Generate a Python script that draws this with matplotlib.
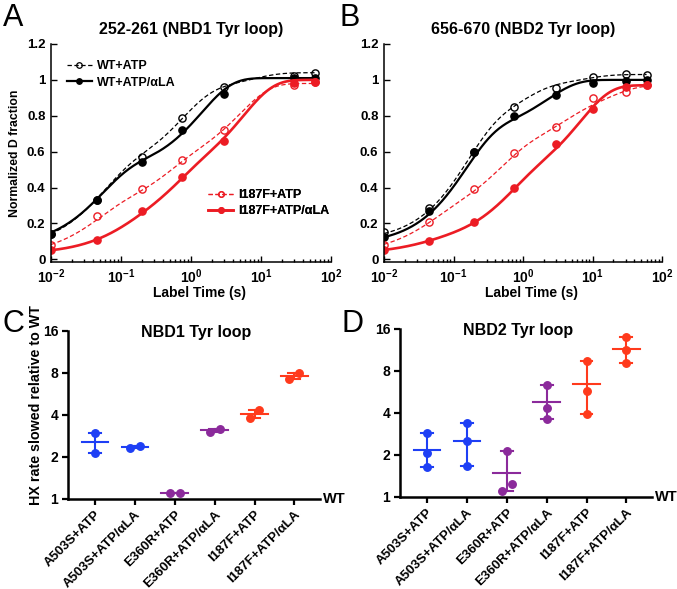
import numpy as np
import matplotlib
matplotlib.use("Agg")
import matplotlib.pyplot as plt
from matplotlib.lines import Line2D
from matplotlib.ticker import LogLocator, NullFormatter

plt.rcParams['font.family'] = ['Liberation Sans', 'DejaVu Sans']
plt.rcParams['font.weight'] = 'bold'
plt.rcParams['axes.labelweight'] = 'bold'
plt.rcParams['mathtext.fontset'] = 'custom'
plt.rcParams['mathtext.bf'] = 'Liberation Sans:bold'
plt.rcParams['mathtext.rm'] = 'Liberation Sans:bold'

# DATA: panels A/B (deuterium uptake)
############################################
time_a = [0.01, 0.045, 0.2, 0.75, 3, 30, 60]
time_b = [0.01, 0.045, 0.2, 0.75, 3, 10, 30, 60]

a_wt_atp = [0.14, 0.33, 0.57, 0.79, 0.96, 1.02, 1.04]
a_wt_atp_ala = [0.14, 0.33, 0.54, 0.72, 0.92, 1.01, 1.01]
a_i187f_atp = [0.08, 0.24, 0.39, 0.555, 0.72, 0.97, 0.99]
a_i187f_atp_ala = [0.05, 0.11, 0.27, 0.46, 0.66, 0.98, 0.99]

b_wt_atp = [0.15, 0.284, 0.60, 0.85, 0.953, 1.015, 1.035, 1.03]
b_wt_atp_ala = [0.127, 0.27, 0.60, 0.80, 0.916, 0.98, 0.995, 1.0]
b_i187f_atp = [0.08, 0.21, 0.39, 0.59, 0.74, 0.90, 0.93, 0.97]
b_i187f_atp_ala = [0.05, 0.10, 0.21, 0.40, 0.64, 0.84, 0.96, 0.97]

# multi-exponential fit parameters (offset, amplitudes, rates in 1/s)
fit_a_wt_atp = (0.06, [0.42, 0.45, 0.11], [20, 1.4, 0.15])
fit_a_wt_atp_ala = (0.07, [0.42, 0.52], [20, 0.7])
fit_a_i187f_atp = (0.02, [0.25, 0.25, 0.46], [25, 2.5, 0.2])
fit_a_i187f_atp_ala = (0.03, [0.12, 0.30, 0.55], [12, 2.0, 0.18])

fit_b_wt_atp = (0.10, [0.60, 0.25, 0.08], [7, 1.2, 0.15])
fit_b_wt_atp_ala = (0.08, [0.62, 0.30], [7, 0.45])
fit_b_i187f_atp = (0.03, [0.20, 0.35, 0.20, 0.19], [25, 2.5, 0.35, 0.06])
fit_b_i187f_atp_ala = (0.03, [0.06, 0.33, 0.55], [30, 1.8, 0.15])

series_names = ['WT+ATP', 'WT+ATP/αLA', 'I187F+ATP', 'I187F+ATP/αLA']

# DATA: panels C/D (HX rate slowed relative to WT)
############################################
categories = ['A503S+ATP', 'A503S+ATP/αLA', 'E360R+ATP',
              'E360R+ATP/αLA', 'I187F+ATP', 'I187F+ATP/αLA']
nbd1_rates = [[2.96, 2.15], [2.31, 2.40], [1.10, 1.11],
              [3.04, 3.16], [3.83, 4.34], [7.24, 7.96]]
nbd2_rates = [[2.86, 2.07, 1.64], [3.41, 2.52, 1.66], [2.14, 1.24, 1.10],
              [6.36, 4.37, 3.64], [9.51, 5.79, 3.95], [14.0, 11.23, 9.11]]

BLUE = '#1e3ff5'
PURPLE = '#8b2a9b'
ORANGE = '#ff3a1c'
cat_colors = [BLUE, BLUE, PURPLE, PURPLE, ORANGE, ORANGE]
RED = '#ec1c24'


def fit_curve(t, params):
    c0, amps, rates = params
    y = np.full_like(t, c0)
    for a, k in zip(amps, rates):
        y = y + a * (1 - np.exp(-k * t))
    return y


W, H = 677, 589
fig = plt.figure(figsize=(W / 100, H / 100), dpi=100)


def px_axes(x0, y_top, x1, y_bot):
    return fig.add_axes([x0 / W, 1 - y_bot / H, (x1 - x0) / W, (y_bot - y_top) / H])


def uptake_panel(ax, times, pts, fits, title, legends):
    styles = [('k', '--', 'none', 0.9), ('k', '-', 'k', 1.6),
              (RED, '--', 'none', 0.9), (RED, '-', RED, 1.9)]
    tt = np.logspace(-2, np.log10(max(times)), 300)
    handles = []
    for (c, ls, mfc, lw), y, f in zip(styles, pts, fits):
        dash = dict(dashes=(3.5, 2)) if ls == '--' else {}
        ax.plot(tt, fit_curve(tt, f), color=c, lw=lw, ls=ls, **dash)
        ax.plot(times, y, 'o', ms=5.2, mfc=mfc, mec=c, mew=1.0, ls='none')
        handles.append(Line2D([], [], color=c, lw=lw, ls=ls, marker='o', ms=4,
                              mfc=mfc, mec=c, mew=0.9, **dash))
    ax.set_xscale('log')
    ax.set_xlim(0.01, 100)
    ax.set_ylim(-0.015, 1.2)
    ax.set_xticks([0.01, 0.1, 1, 10, 100])
    ax.set_xticklabels([r'$\mathbf{10^{-2}}$', r'$\mathbf{10^{-1}}$', r'$\mathbf{10^{0}}$',
                        r'$\mathbf{10^{1}}$', r'$\mathbf{10^{2}}$'], fontsize=10)
    ax.xaxis.set_minor_locator(LogLocator(base=10, subs=np.arange(2, 10)))
    ax.xaxis.set_minor_formatter(NullFormatter())
    ax.set_yticks([0, 0.2, 0.4, 0.6, 0.8, 1.0, 1.2])
    ax.set_yticklabels(['0', '0.2', '0.4', '0.6', '0.8', '1', '1.2'], fontsize=9.5)
    ax.tick_params(which='both', direction='in', width=1.0, pad=4)
    ax.tick_params(which='major', length=4)
    ax.tick_params(which='minor', length=2.2)
    for s in ['top', 'right']:
        ax.spines[s].set_visible(False)
    for s in ['left', 'bottom']:
        ax.spines[s].set_linewidth(1.1)
    ax.set_title(title, fontsize=11.5, fontweight='bold', pad=7)
    ax.set_xlabel('Label Time (s)', fontsize=10, labelpad=3)
    ax.xaxis.set_label_coords(0.53, -0.11)
    for idx, anchor in legends:
        leg = ax.legend([handles[i] for i in idx], [series_names[i] for i in idx],
                        loc='upper left', bbox_to_anchor=anchor, frameon=False,
                        fontsize=9, handlelength=2.0, handletextpad=0.4,
                        labelspacing=0.35, borderpad=0, borderaxespad=0)
        ax.add_artist(leg)


ax_a = px_axes(51, 44, 331, 262)
uptake_panel(ax_a, time_a,
             [a_wt_atp, a_wt_atp_ala, a_i187f_atp, a_i187f_atp_ala],
             [fit_a_wt_atp, fit_a_wt_atp_ala, fit_a_i187f_atp, fit_a_i187f_atp_ala],
             '252-261 (NBD1 Tyr loop)',
             [([0, 1], (0.057, 0.925)), ([2, 3], (0.561, 0.335))])
ax_a.set_ylabel('Normalized D fraction', fontsize=8.8, labelpad=4)

ax_b = px_axes(384, 44, 662, 262)
uptake_panel(ax_b, time_b,
             [b_wt_atp, b_wt_atp_ala, b_i187f_atp, b_i187f_atp_ala],
             [fit_b_wt_atp, fit_b_wt_atp_ala, fit_b_i187f_atp, fit_b_i187f_atp_ala],
             '656-670 (NBD2 Tyr loop)', [])


def rate_panel(ax, rates, title, title_x):
    for i, (vals, c) in enumerate(zip(rates, cat_colors)):
        v = np.sort(np.array(vals, dtype=float))
        lv = np.log2(v)
        # spread overlapping points horizontally
        offs = np.zeros(len(v))
        clusters = [[0]]
        for j in range(1, len(v)):
            if lv[j] - lv[j - 1] < 0.25:
                clusters[-1].append(j)
            else:
                clusters.append([j])
        for cl in clusters:
            if len(cl) > 1:
                offs[cl] = np.linspace(-0.125, 0.125, len(cl))
        m = v.mean()
        ax.plot([i - 0.33, i + 0.33], [m, m], color=c, lw=1.5, zorder=2)
        ax.plot([i, i], [v.min(), v.max()], color=c, lw=1.5, zorder=2)
        for e in (v.min(), v.max()):
            ax.plot([i - 0.15, i + 0.15], [e, e], color=c, lw=1.5, zorder=2)
        ax.plot(i + offs, v, 'o', color=c, ms=5.4, zorder=3)
    ax.set_yscale('log', base=2)
    ax.set_ylim(1, 16)
    ax.set_xlim(-0.67, 5.64)
    ax.set_yticks([1, 2, 4, 8, 16])
    ax.set_yticklabels(['1', '2', '4', '8', '16'], fontsize=10)
    ax.yaxis.set_minor_locator(plt.NullLocator())
    ax.set_xticks(range(len(categories)))
    ax.set_xticklabels(categories, rotation=45, ha='right', rotation_mode='anchor',
                       fontsize=9.5)
    ax.tick_params(direction='out', length=4, width=1.6, pad=3)
    for s in ['top', 'right']:
        ax.spines[s].set_visible(False)
    for s in ['left', 'bottom']:
        ax.spines[s].set_linewidth(1.8)
    ax.text(title_x, 0.965, title, transform=ax.transAxes, ha='center', va='baseline',
            fontsize=11.5, fontweight='bold')
    ax.text(1.01, 0.0, 'WT', transform=ax.transAxes, ha='left', va='center',
            fontsize=10.5, fontweight='bold')


ax_c = px_axes(68, 331, 320, 499)
rate_panel(ax_c, nbd1_rates, 'NBD1 Tyr loop', 0.508)
ax_c.set_ylabel('HX rate slowed relative to WT', fontsize=10.3)
ax_c.yaxis.set_label_coords(-0.10, 0.56)

ax_d = px_axes(400, 329, 652, 497)
rate_panel(ax_d, nbd2_rates, 'NBD2 Tyr loop', 0.468)

# panel letters
for lbl, x, y in [('A', 3, 3), ('B', 339, 3), ('C', 2, 309), ('D', 341, 309)]:
    fig.text(x / W, 1 - y / H, lbl, fontsize=22, fontweight='normal', va='top', ha='left')

fig.savefig('out.png', dpi=100)
